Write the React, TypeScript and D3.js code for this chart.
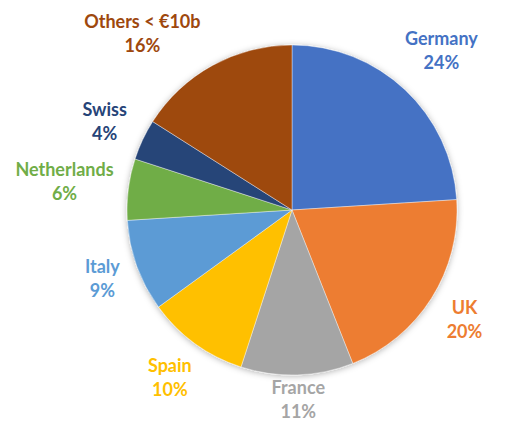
import React, { useEffect, useRef } from "react";
import * as d3 from "d3";

const categories = ["Germany", "UK", "France", "Spain", "Italy", "Netherlands", "Swiss", "Others < €10b"];
const shares = [24, 20, 11, 10, 9, 6, 4, 16];
const colors = ["#4472C4", "#ED7D31", "#A5A5A5", "#FFC000", "#5B9BD5", "#70AD47", "#264478", "#9E480E"];

const W = 528;
const H = 422;

export default function App() {
  const ref = useRef<SVGSVGElement>(null);

  useEffect(() => {
    const svg = d3.select(ref.current);
    svg.selectAll("*").remove();

    const cx = 292;
    const cy = 210;
    const r = 165;

    const defs = svg.append("defs");
    const f = defs.append("filter").attr("id", "shadow").attr("x", "-20%").attr("y", "-20%").attr("width", "140%").attr("height", "140%");
    f.append("feDropShadow").attr("dx", 0).attr("dy", 1).attr("stdDeviation", 3).attr("flood-color", "#000").attr("flood-opacity", 0.3);

    const data = categories.map((c, i) => ({ c, v: shares[i], col: colors[i] }));
    const pie = d3.pie<any>().sort(null).value((d) => d.v);
    const arcs = pie(data);
    const arc = d3.arc<any>().innerRadius(0).outerRadius(r);

    const g = svg.append("g").attr("transform", `translate(${cx},${cy})`);
    const pg = g.append("g").attr("filter", "url(#shadow)");
    pg.selectAll("path")
      .data(arcs)
      .enter()
      .append("path")
      .attr("d", arc as any)
      .attr("fill", (d: any) => d.data.col)
      .attr("stroke", "#fff")
      .attr("stroke-width", 0.4);

    const fontSize = 18;
    const lineH = 24;
    const gap = 13;
    const topMargin = 12;
    const bottomMargin = 1;

    arcs.forEach((d: any) => {
      const t = g.append("text")
        .attr("font-family", "Lato, 'Open Sans', sans-serif")
        .attr("font-weight", 700)
        .attr("font-size", fontSize)
        .attr("fill", d.data.col)
        .attr("text-anchor", "middle");
      const t1 = t.append("tspan").text(d.data.c);
      const t2 = t.append("tspan").text(`${d.data.v}%`);
      const w = Math.max((t1.node() as any).getComputedTextLength(), (t2.node() as any).getComputedTextLength());
      const hw = w / 2;
      const hh = (lineH + fontSize) / 2;
      let a = (d.startAngle + d.endAngle) / 2;
      const dist = (ang: number) => r + gap + hw * Math.abs(Math.sin(ang)) + hh * Math.abs(Math.cos(ang));
      // slide away from the top if the box would leave the canvas
      let guard = 0;
      while (cy - dist(a) * Math.cos(a) - hh < topMargin && guard < 300) {
        a += Math.sin(a) < 0 ? -0.005 : 0.005;
        guard++;
      }
      const D = dist(a);
      const x = D * Math.sin(a);
      let y = -D * Math.cos(a);
      // keep the box inside the bottom edge
      if (cy + y + hh > H - bottomMargin) y = H - bottomMargin - hh - cy;
      const y1 = y - lineH / 2 + fontSize * 0.35;
      t1.attr("x", x).attr("y", y1);
      t2.attr("x", x).attr("y", y1 + lineH);
    });
  }, []);

  return (
    <svg ref={ref} width={W} height={H} style={{ display: "block", position: "absolute", left: 0, top: 0, background: "#fff" }} />
  );
}
